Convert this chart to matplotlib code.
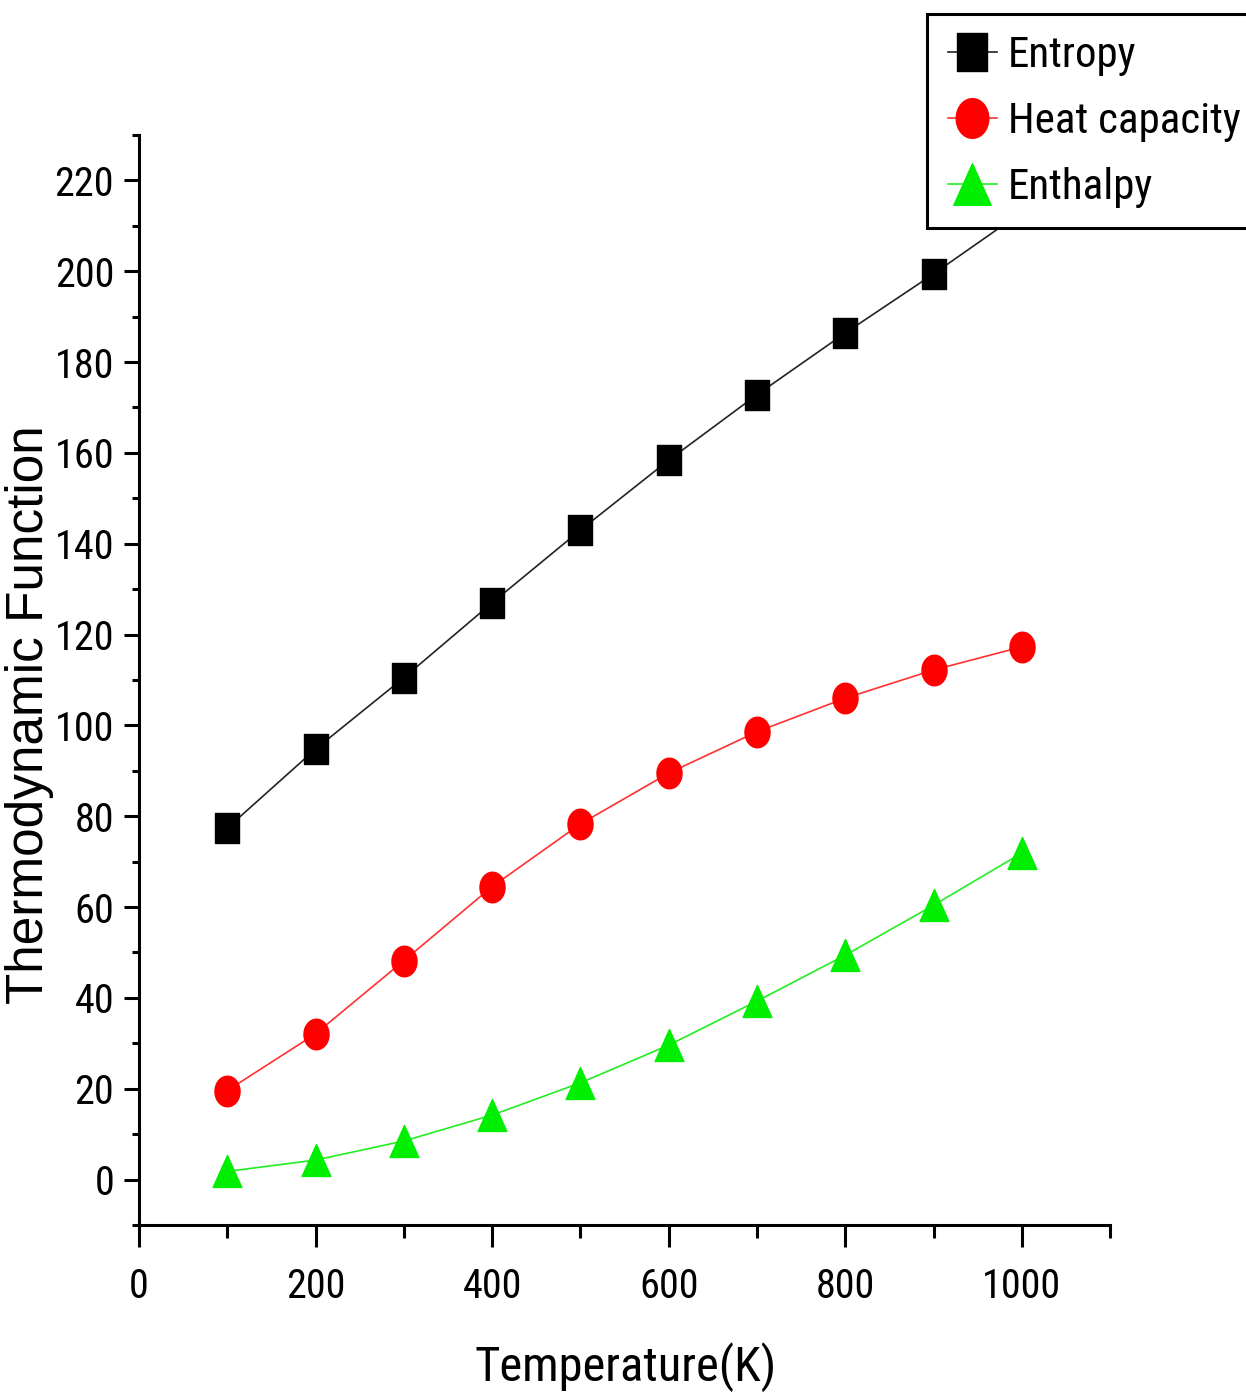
import matplotlib
matplotlib.use('Agg')

import os
import numpy as np
import matplotlib.pyplot as plt
import matplotlib.font_manager as fm
from matplotlib.path import Path
from matplotlib.ticker import MultipleLocator

# temperature (K) and thermodynamic functions
temperature = [100, 200, 300, 400, 500, 600, 700, 800, 900, 1000]
entropy = [77.4, 94.8, 110.5, 127.0, 143.0, 158.4, 172.8, 186.4, 199.4, 213.0]
heat_capacity = [19.6, 32.1, 48.2, 64.5, 78.3, 89.5, 98.6, 106.0, 112.2, 117.3]
enthalpy = [1.8, 4.3, 8.5, 14.2, 21.3, 29.6, 39.3, 49.4, 60.4, 71.9]
labels = ['Entropy', 'Heat capacity', 'Enthalpy']


# the source picture is squeezed sideways, so look for a narrow face
def find_font(patterns):
    files = {}
    for f in fm.fontManager.ttflist:
        key = os.path.basename(f.fname).lower().replace('-', '').replace('_', '').replace(' ', '')
        files[key] = f.fname
    for p in patterns:
        for key, fname in files.items():
            if key.startswith(p):
                return fname
    return None


narrow_file = find_font(['liberationsansnarrowregular', 'liberationsansnarrow.',
                         'notosansextracondensed.', 'notosanscondensed.',
                         'robotocondensedregular', 'dejavusanscondensed.'])
if narrow_file:
    narrow = fm.FontProperties(fname=narrow_file)
else:
    narrow = fm.FontProperties(family='Liberation Sans')
wide = fm.FontProperties(family=['Liberation Sans', 'DejaVu Sans'])


def nfont(size):
    p = narrow.copy()
    p.set_size(size)
    return p


# markers in the picture are a bit taller than wide
def box_marker(w=0.8):
    return Path([(-w/2, -0.5), (w/2, -0.5), (w/2, 0.5), (-w/2, 0.5), (-w/2, -0.5)],
                [Path.MOVETO, Path.LINETO, Path.LINETO, Path.LINETO, Path.CLOSEPOLY])


def oval_marker(w=0.82):
    t = np.linspace(0, 2*np.pi, 60)
    v = np.column_stack([w/2*np.cos(t), 0.5*np.sin(t)])
    return Path(v, closed=True)


def tri_marker(w=0.9):
    return Path([(0, 0.5), (w/2, -0.5), (-w/2, -0.5), (0, 0.5)],
                [Path.MOVETO, Path.LINETO, Path.LINETO, Path.CLOSEPOLY])


fig = plt.figure(figsize=(12.46, 13.93), dpi=100)
ax = fig.add_axes([0.1116, 0.1206, 0.7793, 0.7825])

ax.plot(temperature, entropy, color='#222222', lw=1.2, marker=box_marker(),
        ms=21, mfc='black', mec='black', label=labels[0])
ax.plot(temperature, heat_capacity, color='#ff3030', lw=1.2, marker=oval_marker(),
        ms=22, mfc='red', mec='red', label=labels[1])
ax.plot(temperature, enthalpy, color='#22ee22', lw=1.2, marker=tri_marker(),
        ms=23, mfc='#00ee00', mec='#00ee00', label=labels[2])

ax.set_xlim(0, 1100)
ax.set_ylim(-10, 230)
ax.spines['top'].set_visible(False)
ax.spines['right'].set_visible(False)
for s in ['left', 'bottom']:
    ax.spines[s].set_linewidth(2.2)

ax.set_xticks([0, 200, 400, 600, 800, 1000])
ax.set_yticks(range(0, 221, 20))
ax.xaxis.set_minor_locator(MultipleLocator(100))
ax.yaxis.set_minor_locator(MultipleLocator(10))

ax.tick_params(axis='x', which='major', direction='out', length=16, width=2.2, pad=14)
ax.tick_params(axis='x', which='minor', direction='out', length=9, width=2.2)
ax.tick_params(axis='y', which='major', direction='out', length=11, width=2.2, pad=7)
ax.tick_params(axis='y', which='minor', direction='out', length=5, width=2.2)
for lab in ax.get_xticklabels() + ax.get_yticklabels():
    lab.set_fontproperties(nfont(29))

fig.text(626/1246, 1 - 1381/1393, 'Temperature(K)', fontproperties=nfont(35),
         ha='center', va='baseline')
wp = wide.copy()
wp.set_size(37)
fig.text(30/1246, 1 - 715/1393, 'Thermodynamic Function', fontproperties=wp,
         rotation=90, ha='center', va='center')

leg = ax.legend(loc='upper left', bbox_to_anchor=(927/1246, 1 - 14/1393),
                bbox_transform=fig.transFigure, frameon=True, fancybox=False,
                framealpha=1, prop=nfont(31), handlelength=1.15, handletextpad=0.25,
                borderpad=0.48, labelspacing=0.58, borderaxespad=0,
                markerscale=1.3)
leg.get_frame().set_edgecolor('black')
leg.get_frame().set_linewidth(2.2)

fig.savefig('out.png', dpi=100)
